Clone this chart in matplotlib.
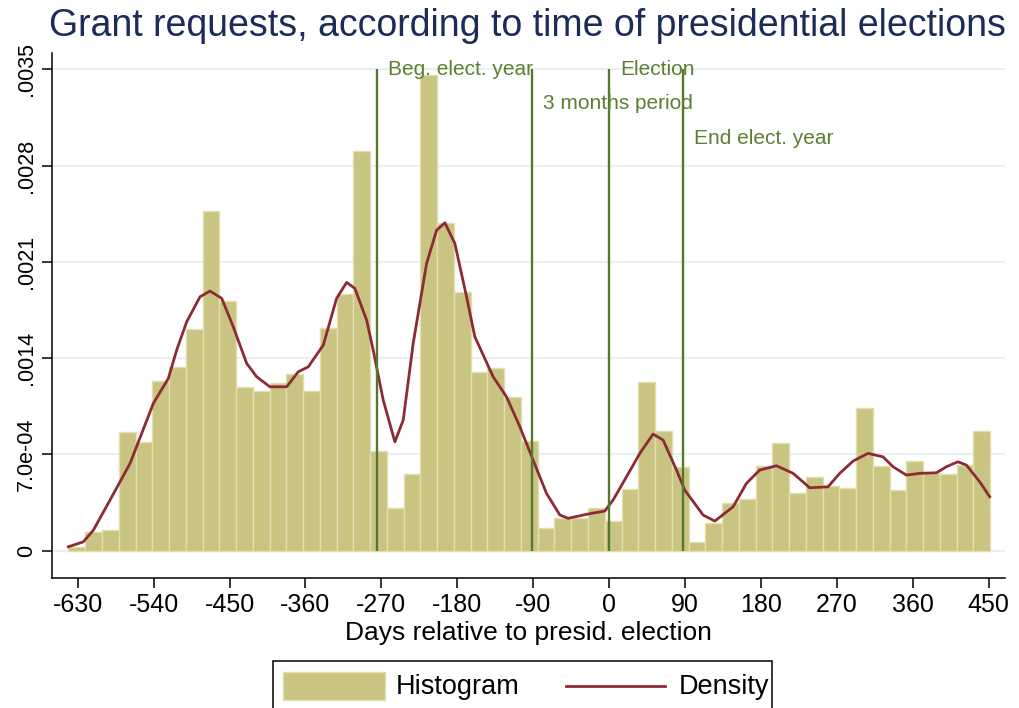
import numpy as np
import matplotlib
matplotlib.use("Agg")
import matplotlib.pyplot as plt
from matplotlib.patches import Rectangle
from matplotlib.lines import Line2D

plt.rcParams['font.family'] = ['Liberation Sans', 'DejaVu Sans']

# histogram: 55 bins of ~19.9 days starting at day -641
bin_start = -641.0
bin_width = 19.87
bar_heights = [
    0.000029, 0.000138, 0.000150, 0.000861, 0.000792, 0.001234, 0.001337, 0.001609,
    0.002469, 0.001817, 0.001192, 0.001161, 0.001217, 0.001282, 0.001163, 0.001617,
    0.001864, 0.002905, 0.000725, 0.000313, 0.000555, 0.003458, 0.002380, 0.001878,
    0.001301, 0.001326, 0.001115, 0.000797, 0.000167, 0.000240, 0.000240, 0.000308,
    0.000216, 0.000449, 0.001224, 0.000872, 0.000606, 0.000061, 0.000204, 0.000345,
    0.000376, 0.000616, 0.000785, 0.000417, 0.000538, 0.000470, 0.000454, 0.001035,
    0.000616, 0.000441, 0.000654, 0.000563, 0.000558, 0.000623, 0.000870,
]

# kernel density estimate
dens_days = [
    -641.1, -623.4, -611.5, -591.7, -568.0, -540.4, -522.6, -512.7, -500.8, -485.1,
    -473.2, -459.3, -445.6, -429.7, -417.9, -402.1, -382.3, -368.6, -356.7, -338.9,
    -323.1, -311.2, -301.4, -287.5, -279.7, -267.8, -254.0, -244.1, -232.3, -216.4,
    -204.5, -194.7, -182.9, -169.0, -159.2, -137.5, -121.6, -105.8, -90.1, -74.2,
    -58.4, -48.6, -26.8, -5.1, 4.7, 20.6, 36.4, 52.1, 64.0, 79.9,
    89.7, 111.4, 125.3, 147.0, 162.8, 178.6, 198.4, 218.1, 237.9, 259.5,
    273.4, 289.2, 306.9, 324.7, 336.6, 352.5, 368.2, 388.0, 399.9, 413.6,
    423.6, 439.3, 451.2,
]
dens_vals = [
    0.000029, 0.000065, 0.000150, 0.000369, 0.000635, 0.001071, 0.001253, 0.001459, 0.001665, 0.001846,
    0.001888, 0.001835, 0.001628, 0.001362, 0.001265, 0.001192, 0.001192, 0.001301, 0.001337, 0.001495,
    0.001835, 0.001951, 0.001907, 0.001677, 0.001459, 0.001095, 0.000792, 0.000950, 0.001508, 0.002089,
    0.002331, 0.002384, 0.002234, 0.001846, 0.001556, 0.001265, 0.001119, 0.000901, 0.000659, 0.000417,
    0.000260, 0.000236, 0.000265, 0.000289, 0.000369, 0.000538, 0.000708, 0.000848, 0.000805, 0.000587,
    0.000441, 0.000260, 0.000216, 0.000320, 0.000490, 0.000587, 0.000618, 0.000563, 0.000458, 0.000465,
    0.000563, 0.000652, 0.000708, 0.000683, 0.000611, 0.000550, 0.000563, 0.000567, 0.000611, 0.000647,
    0.000623, 0.000502, 0.000393,
]

# reference lines and their labels
event_days = [-275, -91, 0, 88]
event_labels = ["Beg. elect. year", "3 months period", "Election", "End elect. year"]
event_label_y = [0.0035, 0.00325, 0.0035, 0.003]

xticks = list(range(-630, 451, 90))
yticks = [0, 0.0007, 0.0014, 0.0021, 0.0028, 0.0035]
ytick_labels = ["0", "7.0e-04", ".0014", ".0021", ".0028", ".0035"]

bar_color = "#cac483"
bar_edge = "#e2deae"
dens_color = "#8c2b36"
line_color = "#55792c"
text_color = "#5c7f33"

fig = plt.figure(figsize=(10.2, 7.08), dpi=100)
ax = fig.add_axes([0.051, 0.1836, 0.934, 0.7414])

left_edges = bin_start + bin_width * np.arange(len(bar_heights))
ax.bar(left_edges, bar_heights, width=bin_width, align="edge",
       color=bar_color, edgecolor=bar_edge, linewidth=1.0, zorder=2)
ax.plot(dens_days, dens_vals, color=dens_color, linewidth=2.0, zorder=3,
        solid_joinstyle="round")

ax.vlines(event_days, 0, 0.0035, color=line_color, linewidth=1.7, zorder=4)
for d, lab, yy in zip(event_days, event_labels, event_label_y):
    ax.annotate(lab, (d, yy), xytext=(8, 0), textcoords="offset points",
                va="center", ha="left", fontsize=15, color=text_color, zorder=5)

ax.set_xlim(-660.5, 469)
ax.set_ylim(-0.000198, 0.003618)
ax.set_xticks(xticks)
ax.set_xticklabels([str(t) for t in xticks], fontsize=18)
ax.set_yticks(yticks)
ax.set_yticklabels(ytick_labels, fontsize=15.5, rotation=90, va="center")
ax.tick_params(axis="both", direction="out", length=7, width=1.1, color="black")
ax.tick_params(axis="x", pad=4)
ax.tick_params(axis="y", pad=4)

ax.grid(axis="y", color="#e8f0f2", linewidth=1.6, zorder=0)
ax.set_axisbelow(True)
for side in ["top", "right"]:
    ax.spines[side].set_visible(False)
for side in ["left", "bottom"]:
    ax.spines[side].set_linewidth(1.1)

ax.set_xlabel("Days relative to presid. election", fontsize=19, labelpad=3)
fig.text(0.517, 0.963, "Grant requests, according to time of presidential elections",
         ha="center", va="center", fontsize=27, color="#1c2c58")

# legend box, partly running off the bottom edge
W, H = 1020.0, 708.0
fig.add_artist(Rectangle((273 / W, 1 - 722 / H), 499 / W, 61 / H, transform=fig.transFigure,
                         facecolor="white", edgecolor="black", linewidth=1.1))
fig.add_artist(Rectangle((283 / W, 1 - 700 / H), 102 / W, 28 / H, transform=fig.transFigure,
                         facecolor=bar_color, edgecolor=bar_edge, linewidth=1.0))
fig.text(396 / W, 1 - 687 / H, "Histogram", fontsize=19.5, va="center", ha="left")
fig.add_artist(Line2D([566 / W, 665 / W], [1 - 686 / H, 1 - 686 / H], transform=fig.transFigure,
                      color=dens_color, linewidth=2.0))
fig.text(679 / W, 1 - 687 / H, "Density", fontsize=19.5, va="center", ha="left")

fig.savefig("out.png", dpi=100)
